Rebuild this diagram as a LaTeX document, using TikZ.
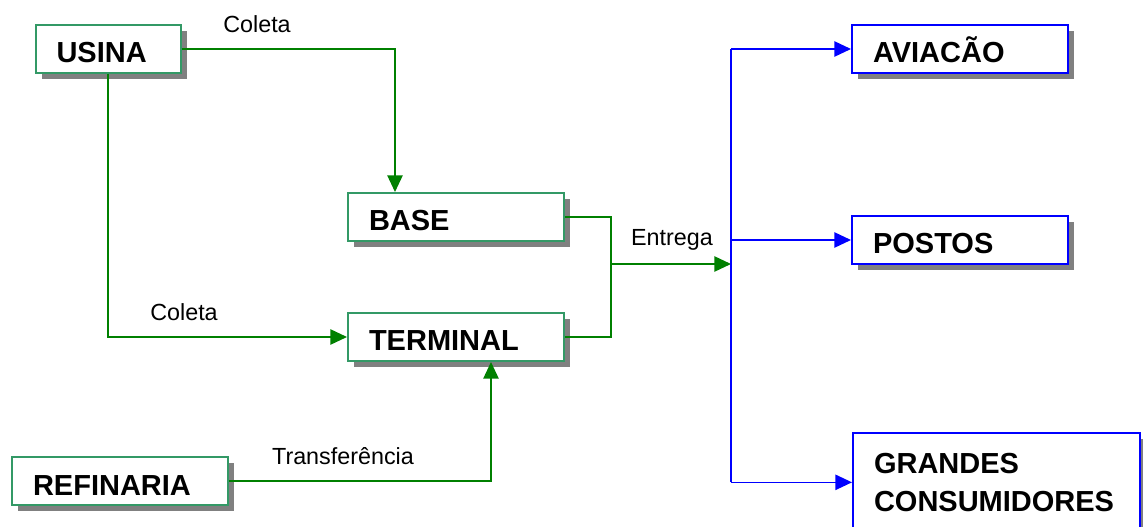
\documentclass[tikz,border=0pt]{standalone}
\usepackage{fontspec}
\setmainfont{Liberation Sans}
\usetikzlibrary{arrows.meta,shadows}
\definecolor{boxgreen}{RGB}{51,153,102}
\definecolor{linegreen}{RGB}{0,128,0}
\definecolor{shadowgray}{RGB}{128,128,128}
\begin{document}
\begin{tikzpicture}[x=0.75pt,y=-0.75pt,
  bxbase/.style={line width=1.5pt, fill=white, anchor=north west,
    font=\bfseries\fontsize{21.75}{28.5}\selectfont, align=left,
    inner xsep=15.75pt, inner ysep=0pt, minimum height=36pt, text width=130.5pt,
    drop shadow={shadow xshift=4.5pt, shadow yshift=-4.5pt, fill=shadowgray, opacity=1}},
  bx/.style={bxbase, draw=boxgreen, text height=21pt, text depth=0pt},
  bxb/.style={bx, draw=blue},
  bxbig/.style={bxbase, draw=blue},
  lbl/.style={font=\fontsize{17.5}{21}\selectfont, inner sep=0pt},
  g/.style={draw=linegreen, line width=1.15pt},
  bl/.style={draw=blue, line width=1.15pt},
  tip/.style={-{Triangle[length=12.5pt,width=11.5pt]}}
]
\useasboundingbox (0,0) rectangle (1143,527);
% nodes
\node[bx, text width=77.25pt] (usina) at (34.5,24) {USINA};
\node[bx] (base) at (347,192) {BASE};
\node[bx] (terminal) at (347,312) {TERMINAL};
\node[bx] (refinaria) at (11,456) {REFINARIA};
\node[bxb] (aviacao) at (851,24) {AVIACÃO};
\node[bxb] (postos) at (851,215) {POSTOS};
\node[bxbig, text width=183.75pt, minimum height=74pt] (grandes) at (852,432) {GRANDES\\CONSUMIDORES};
% labels
\node[lbl] (l1) at (257,24) {Coleta};
\node[lbl] (l2) at (184,312) {Coleta};
\node[lbl] (l3) at (672,240) {Entrega};
\node[lbl] (l4) at (343,456) {Transferência};
% green connectors
\draw[g,tip] (usina.east) -| ([xshift=36pt]base.north west);
\draw[g,tip] (usina.south) |- (terminal.west);
\coordinate (j) at (611,264);
\coordinate (bus) at (731,264);
\draw[g] (base.east) -| (j) |- (terminal.east);
\draw[g,tip] (j) -- (bus);
\draw[g,tip] (refinaria.east) -| ([xshift=108pt]terminal.south west);
% blue connectors
\draw[bl] (bus |- aviacao.west) -- (bus |- grandes.west);
\draw[bl,tip] (bus |- aviacao.west) -- (aviacao.west);
\draw[bl,tip] (bus |- postos.west) -- (postos.west);
\draw[bl,tip] (bus |- grandes.west) -- (grandes.west);
\end{tikzpicture}
\end{document}
